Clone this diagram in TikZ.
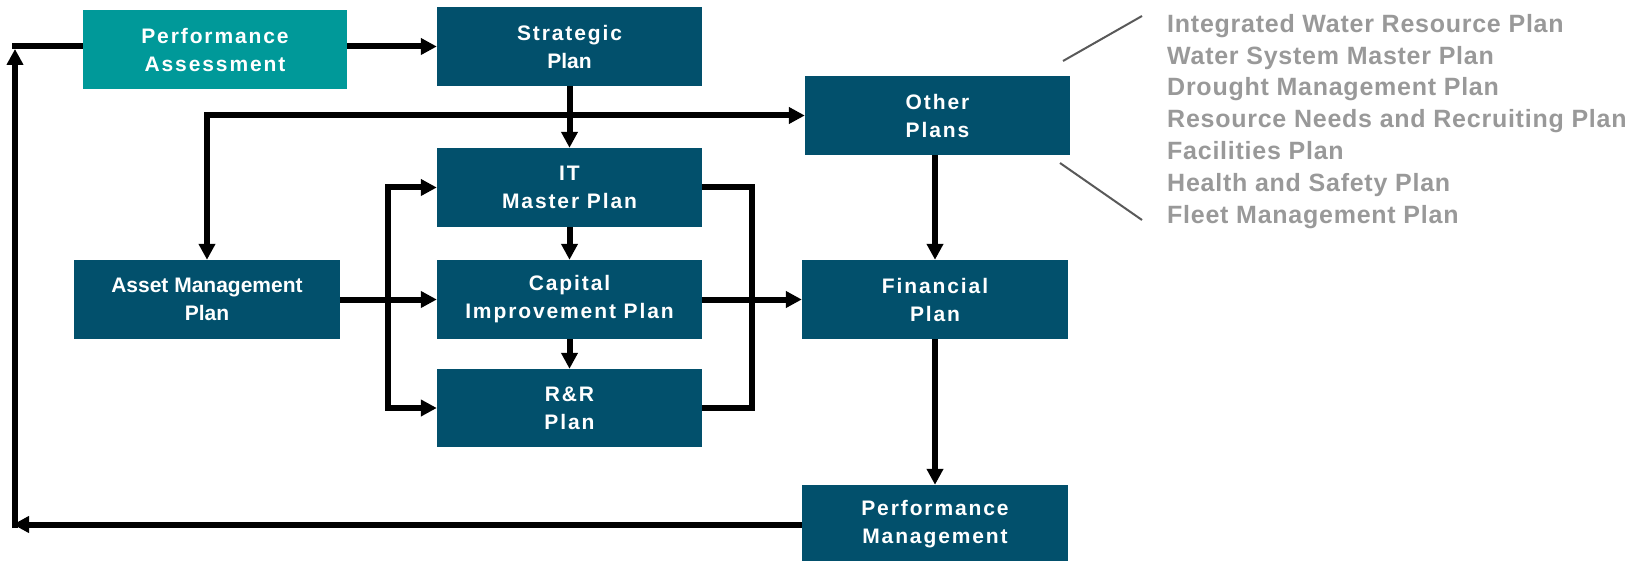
\documentclass[tikz,border=0pt]{standalone}
\usepackage{fontspec}
\setmainfont{Liberation Sans}
\newfontfamily\bxs[LetterSpace=9]{Liberation Sans}
\newfontfamily\bxn{Liberation Sans}
\newfontfamily\gfont[LetterSpace=3]{Liberation Sans}
\usetikzlibrary{arrows.meta}
\definecolor{boxblue}{RGB}{2,80,108}
\definecolor{tealbox}{RGB}{0,153,153}
\definecolor{gtext}{RGB}{153,153,153}
\definecolor{glinec}{RGB}{89,89,89}
\begin{document}
\begin{tikzpicture}[x=1pt,y=-1pt,
  box/.style={fill=boxblue, text=white, inner sep=0pt, minimum width=265pt, minimum height=79pt, align=center, font=\bxs\bfseries\fontsize{21}{28}\selectfont},
  conn/.style={line width=6pt, draw=black},
  arr/.style={conn, -{Triangle[length=16pt,width=16pt]}},
  arrboth/.style={conn, {Triangle[length=16pt,width=16pt]}-{Triangle[length=16pt,width=16pt]}},
  gl/.style={line width=2pt, draw=glinec},
  gitem/.style={anchor=base west, inner sep=0pt, text=gtext, font=\gfont\bfseries\fontsize{25}{30}\selectfont}
]
\useasboundingbox (0,0) rectangle (1643,561);

% boxes
\node[box, fill=tealbox, minimum width=264pt] (PA) at (215,49.5) {Performance\\Assessment};
\node[box] (SP) at (569.5,46.5) {Strategic\\{\bxn Plan}};
\node[box] (OP) at (937.5,115.5) {Other\\Plans};
\node[box] (IT) at (569.5,187.5) {IT\\Master Plan};
\node[box] (CIP) at (569.5,299.5) {Capital\\Improvement Plan};
\node[box, minimum height=78pt] (RR) at (569.5,408) {R\&R\\Plan};
\node[box, minimum width=266pt, font=\bxn\bfseries\fontsize{21}{28}\selectfont] (AM) at (207,299.5) {Asset Management\\Plan};
\node[box, minimum width=266pt] (FP) at (935,299.5) {Financial\\Plan};
\node[box, minimum width=266pt] (PM) at (935,524.5) {Performance\\Management};

% helper coordinates
\coordinate (TL) at (12,46.5);
\coordinate (TLa) at (15,49);
\coordinate (BLs) at (15,528);
\coordinate (BL) at (13,524.5);
\coordinate (LB) at (388,0);
\coordinate (RB) at (752,0);

% connectors
\draw[arr] (PA.east |- SP.west) -- (SP.west);
\draw[conn] (PA.west |- TL) -- (TL);
\draw[arr] (BLs) -- (TLa);
\draw[arr] (PM.west) -- (BL);
\draw[arr] (SP.south) -- (IT.north);
\draw[arrboth] (AM.north) |- (OP.west);
\draw[arr] (IT.south) -- (CIP.north);
\draw[arr] (CIP.south) -- (RR.north);
\draw[arr] (AM.east) -- (CIP.west);
\draw[arr] (LB |- CIP.west) |- (IT.west);
\draw[arr] (LB |- CIP.west) |- (RR.west);
\draw[conn] (IT.east) -| (RB |- CIP.east);
\draw[conn] (RR.east) -| (RB |- CIP.east);
\draw[arr] (CIP.east) -- (FP.west);
\draw[arr] (OP.south -| FP.north) -- (FP.north);
\draw[arr] (FP.south) -- (PM.north);

% gray list
\coordinate (ga1) at (1063,61);
\coordinate (ga2) at (1142,16);
\coordinate (gb1) at (1060,163);
\coordinate (gb2) at (1142,220);
\draw[gl] (ga1) -- (ga2);
\draw[gl] (gb1) -- (gb2);
\node[gitem] (g1) at (1167,32.3) {Integrated Water Resource Plan};
\node[gitem] (g2) at (1167,64.1) {Water System Master Plan};
\node[gitem] (g3) at (1167,96.0) {Drought Management Plan};
\node[gitem] (g4) at (1167,127.8) {Resource Needs and Recruiting Plan};
\node[gitem] (g5) at (1167,159.6) {Facilities Plan};
\node[gitem] (g6) at (1167,191.5) {Health and Safety Plan};
\node[gitem] (g7) at (1167,223.3) {Fleet Management Plan};
\end{tikzpicture}
\end{document}
